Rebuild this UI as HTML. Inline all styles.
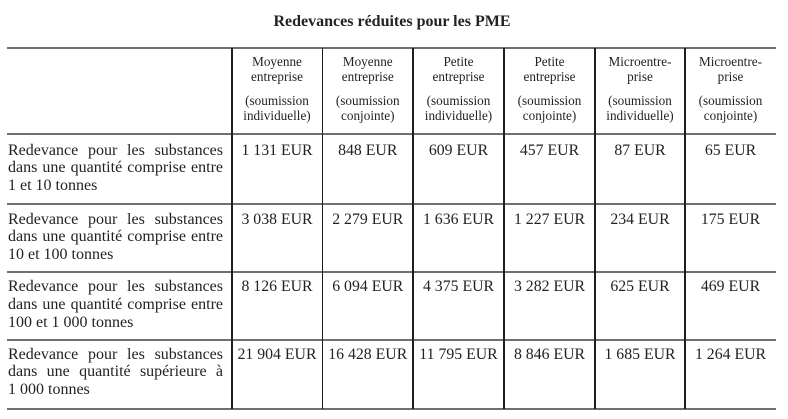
<!DOCTYPE html>
<html>
<head>
<meta charset="utf-8">
<style>
  html,body{margin:0;padding:0;background:#fff;}
  body{width:788px;height:419px;position:relative;overflow:hidden;
       font-family:"Liberation Serif","DejaVu Serif",serif;color:#222;}
  .title{position:absolute;left:0;width:784px;top:11.6px;line-height:20px;
         font-size:16px;font-weight:bold;text-align:center;}
  .h{position:absolute;height:2px;background:#707070;left:7px;width:769px;}
  .v{position:absolute;width:1.5px;background:#1e1e1e;top:48px;height:360.5px;}
  .hd{position:absolute;font-size:13.2px;line-height:15px;text-align:center;white-space:nowrap;}
  .rl{position:absolute;left:8px;width:215px;font-size:16px;line-height:17.8px;}
  .rl div{white-space:nowrap;}
  .rl .j{text-align:justify;text-align-last:justify;white-space:normal;}
  .d{position:absolute;font-size:15.8px;line-height:17.8px;text-align:center;white-space:nowrap;}
</style>
</head>
<body>
<div class="title">Redevances réduites pour les PME</div>

<div class="h" style="top:47px;"></div>
<div class="h" style="top:132.5px;"></div>
<div class="h" style="top:203px;"></div>
<div class="h" style="top:271px;"></div>
<div class="h" style="top:339px;"></div>
<div class="h" style="top:407.5px;"></div>

<div class="v" style="left:231px;"></div>
<div class="v" style="left:321.8px;"></div>
<div class="v" style="left:412.2px;"></div>
<div class="v" style="left:503px;"></div>
<div class="v" style="left:594px;"></div>
<div class="v" style="left:684px;"></div>

<!-- header -->
<div class="hd" style="left:232px;width:90px;top:54px;">Moyenne<br>entreprise</div>
<div class="hd" style="left:232px;width:90px;top:93px;">(soumission<br>individuelle)</div>
<div class="hd" style="left:322.5px;width:90.5px;top:54px;">Moyenne<br>entreprise</div>
<div class="hd" style="left:322.5px;width:90.5px;top:93px;">(soumission<br>conjointe)</div>
<div class="hd" style="left:413px;width:91px;top:54px;">Petite<br>entreprise</div>
<div class="hd" style="left:413px;width:91px;top:93px;">(soumission<br>individuelle)</div>
<div class="hd" style="left:504px;width:91px;top:54px;">Petite<br>entreprise</div>
<div class="hd" style="left:504px;width:91px;top:93px;">(soumission<br>conjointe)</div>
<div class="hd" style="left:595px;width:90px;top:54px;">Microentre-<br>prise</div>
<div class="hd" style="left:595px;width:90px;top:93px;">(soumission<br>individuelle)</div>
<div class="hd" style="left:685px;width:91px;top:54px;">Microentre-<br>prise</div>
<div class="hd" style="left:685px;width:91px;top:93px;">(soumission<br>conjointe)</div>

<!-- row labels -->
<div class="rl" style="top:141.7px;">
  <div class="j">Redevance pour les substances</div>
  <div class="j">dans une quantité comprise entre</div>
  <div>1 et 10 tonnes</div>
</div>
<div class="rl" style="top:210.7px;">
  <div class="j">Redevance pour les substances</div>
  <div class="j">dans une quantité comprise entre</div>
  <div>10 et 100 tonnes</div>
</div>
<div class="rl" style="top:278.3px;">
  <div class="j">Redevance pour les substances</div>
  <div class="j">dans une quantité comprise entre</div>
  <div>100 et 1 000 tonnes</div>
</div>
<div class="rl" style="top:345.7px;">
  <div class="j">Redevance pour les substances</div>
  <div class="j">dans une quantité supérieure à</div>
  <div>1 000 tonnes</div>
</div>

<!-- data row 1 -->
<div class="d" style="left:232px;width:90px;top:141.7px;">1 131 EUR</div>
<div class="d" style="left:322.5px;width:90.5px;top:141.7px;">848 EUR</div>
<div class="d" style="left:413px;width:91px;top:141.7px;">609 EUR</div>
<div class="d" style="left:504px;width:91px;top:141.7px;">457 EUR</div>
<div class="d" style="left:595px;width:90px;top:141.7px;">87 EUR</div>
<div class="d" style="left:685px;width:91px;top:141.7px;">65 EUR</div>

<!-- data row 2 -->
<div class="d" style="left:232px;width:90px;top:210.7px;">3 038 EUR</div>
<div class="d" style="left:322.5px;width:90.5px;top:210.7px;">2 279 EUR</div>
<div class="d" style="left:413px;width:91px;top:210.7px;">1 636 EUR</div>
<div class="d" style="left:504px;width:91px;top:210.7px;">1 227 EUR</div>
<div class="d" style="left:595px;width:90px;top:210.7px;">234 EUR</div>
<div class="d" style="left:685px;width:91px;top:210.7px;">175 EUR</div>

<!-- data row 3 -->
<div class="d" style="left:232px;width:90px;top:278.3px;">8 126 EUR</div>
<div class="d" style="left:322.5px;width:90.5px;top:278.3px;">6 094 EUR</div>
<div class="d" style="left:413px;width:91px;top:278.3px;">4 375 EUR</div>
<div class="d" style="left:504px;width:91px;top:278.3px;">3 282 EUR</div>
<div class="d" style="left:595px;width:90px;top:278.3px;">625 EUR</div>
<div class="d" style="left:685px;width:91px;top:278.3px;">469 EUR</div>

<!-- data row 4 -->
<div class="d" style="left:232px;width:90px;top:345.7px;">21 904 EUR</div>
<div class="d" style="left:322.5px;width:90.5px;top:345.7px;">16 428 EUR</div>
<div class="d" style="left:413px;width:91px;top:345.7px;">11 795 EUR</div>
<div class="d" style="left:504px;width:91px;top:345.7px;">8 846 EUR</div>
<div class="d" style="left:595px;width:90px;top:345.7px;">1 685 EUR</div>
<div class="d" style="left:685px;width:91px;top:345.7px;">1 264 EUR</div>
</body>
</html>
